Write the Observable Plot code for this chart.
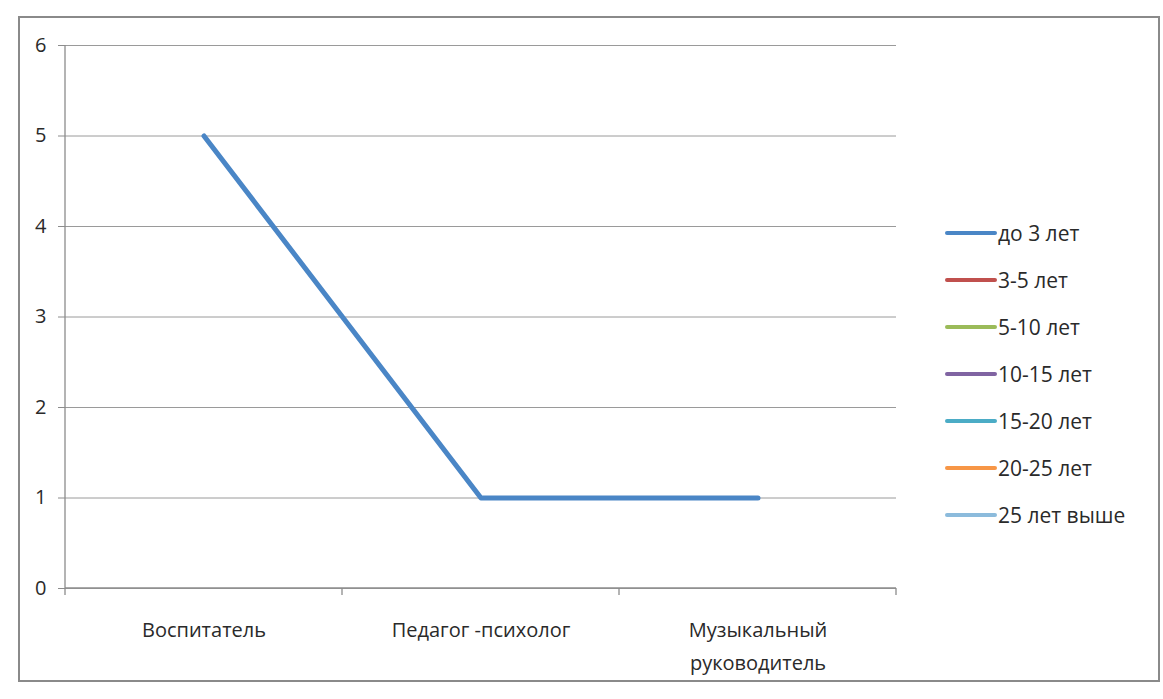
<!DOCTYPE html>
<html>
<head>
<meta charset="utf-8">
<script src="https://cdn.jsdelivr.net/npm/d3@7"></script>
<script src="https://cdn.jsdelivr.net/npm/@observablehq/plot@0.6"></script>
<style>
  html, body { margin: 0; padding: 0; background: #fff; }
  body { width: 1163px; height: 699px; position: relative; overflow: hidden; font-family: "Open Sans", "Noto Sans", sans-serif; }
  #frame { position: absolute; left: 18px; top: 16px; width: 1142px; height: 666px; border: 2px solid #8a8a8a; box-sizing: border-box; }
  #chart { position: absolute; left: 0; top: 0; }
  #legend { position: absolute; left: 945px; top: 209px; }
  .item { display: flex; align-items: center; height: 47px; font-size: 21px; color: #2a2a2a; }
  .swatch { width: 52px; height: 4px; border-radius: 2px; margin-right: 1px; }
</style>
</head>
<body>
<div id="frame"></div>
<div id="chart"></div>
<div id="legend"></div>
<script>
const categories = ["Воспитатель", "Педагог -психолог", "Музыкальный\nруководитель"];
const seriesNames = ["до 3 лет", "3-5 лет", "5-10 лет", "10-15 лет", "15-20 лет", "20-25 лет", "25 лет выше"];
const seriesColors = ["#4a86c6", "#c0504d", "#9bbb59", "#8064a2", "#4bacc6", "#f79646", "#8cbbdc"];
const valuesUpTo3 = [5, 1, 1];
const yTicks = [0, 1, 2, 3, 4, 5, 6];

const data = categories.map((c, i) => ({category: c, value: valuesUpTo3[i]}));

// axis lines and category boundary tick marks, drawn from Plot's own scales
function axisLines(index, scales) {
  const g = d3.create("svg:g").attr("stroke", "#8c8c8c").attr("stroke-width", 1.3);
  const [x0, x1] = scales.x.range();
  const bw = scales.x.bandwidth();
  const y0 = scales.y(0), yTop = scales.y(6);
  g.append("line").attr("x1", x0).attr("x2", x0).attr("y1", y0 + 7).attr("y2", yTop);
  g.append("line").attr("x1", x0).attr("x2", x1).attr("y1", y0).attr("y2", y0);
  categories.forEach(c => {
    const xr = scales.x(c) + bw;
    g.append("line").attr("x1", xr).attr("x2", xr).attr("y1", y0).attr("y2", y0 + 7);
  });
  return g.node();
}

const chart = Plot.plot({
  width: 930,
  height: 699,
  marginLeft: 65,
  marginRight: 34,
  marginTop: 45,
  marginBottom: 111,
  style: {fontFamily: "'Open Sans', 'Noto Sans', sans-serif", fontSize: "20px", color: "#2a2a2a", background: "transparent"},
  x: {type: "band", domain: categories, padding: 0, label: null},
  y: {domain: [0, 6], label: null},
  marks: [
    Plot.gridY(yTicks, {stroke: "#9a9a9a", strokeOpacity: 1, strokeWidth: 1}),
    Plot.axisY(yTicks, {tickSize: 7, tickPadding: 12, stroke: "#8c8c8c", fill: "#2a2a2a", fontSize: 20, tickFormat: d3.format("d")}),
    Plot.axisX({tickSize: 0, tickPadding: 25, fill: "#2a2a2a", fontSize: 20, lineHeight: 1.65}),
    axisLines,
    Plot.line(data, {x: "category", y: "value", stroke: seriesColors[0], strokeWidth: 5})
  ]
});
document.getElementById("chart").appendChild(chart);

const legend = document.getElementById("legend");
seriesNames.forEach((name, i) => {
  const item = document.createElement("div");
  item.className = "item";
  const sw = document.createElement("div");
  sw.className = "swatch";
  sw.style.background = seriesColors[i];
  const label = document.createElement("span");
  label.textContent = name;
  item.appendChild(sw);
  item.appendChild(label);
  legend.appendChild(item);
});
</script>
</body>
</html>
